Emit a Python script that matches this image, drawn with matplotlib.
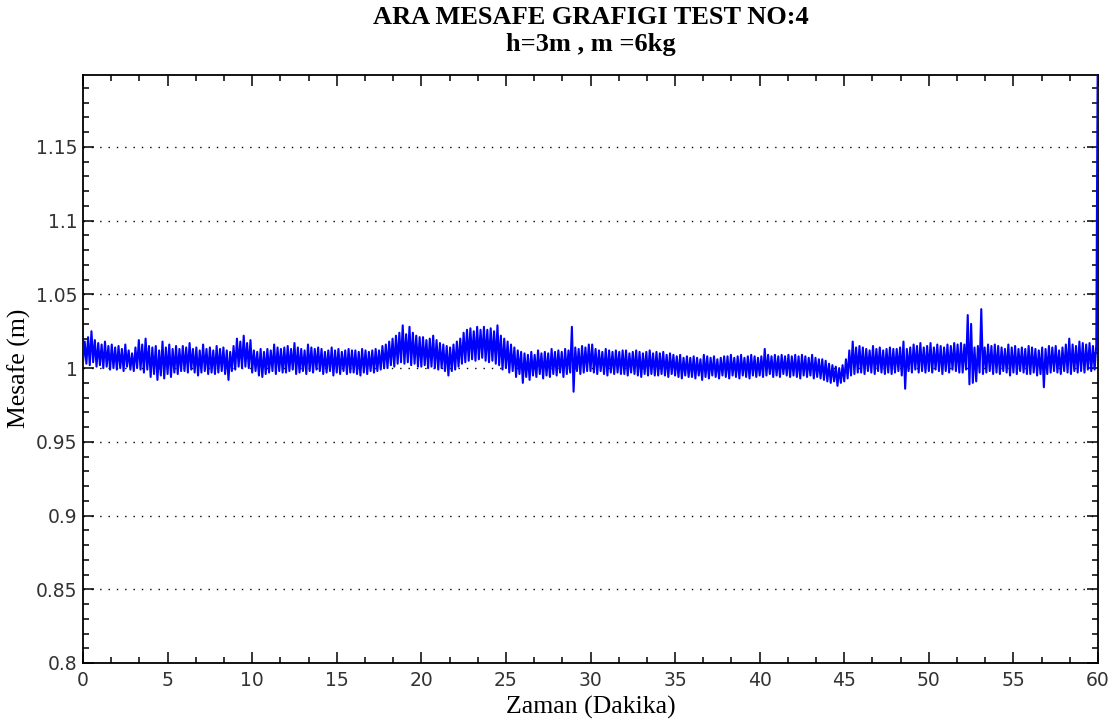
import numpy as np
import matplotlib
matplotlib.use("Agg")
import matplotlib.pyplot as plt
from matplotlib.ticker import MultipleLocator, FixedLocator

# ---- data: time in minutes, distance in metres ----
time_step = 0.1  # minutes between readings
distance = [
    1.004, 1.018, 1.003, 1.021, 1.002, 1.025, 1.004, 1.019, 1.001, 1.017, 1.002, 1.016, 1.000, 1.018, 1.001, 1.015, 0.999, 1.016, 1.000, 1.014,
    0.999, 1.015, 1.000, 1.013, 0.998, 1.016, 1.001, 1.012, 0.999, 1.010, 0.998, 1.014, 1.000, 1.019, 0.999, 1.016, 0.997, 1.020, 0.999, 1.015,
    0.994, 1.014, 0.996, 1.015, 0.992, 1.012, 0.995, 1.018, 0.993, 1.014, 0.996, 1.016, 0.994, 1.013, 0.997, 1.015, 0.996, 1.013, 0.998, 1.015,
    0.998, 1.014, 0.997, 1.017, 0.999, 1.013, 0.997, 1.014, 0.995, 1.012, 0.997, 1.016, 0.998, 1.013, 0.996, 1.014, 0.997, 1.012, 0.996, 1.015,
    0.997, 1.013, 0.998, 1.014, 0.996, 1.012, 0.992, 1.011, 0.998, 1.015, 0.999, 1.020, 1.001, 1.018, 1.000, 1.022, 1.001, 1.017, 1.000, 1.019,
    0.997, 1.012, 0.998, 1.011, 0.995, 1.013, 0.994, 1.011, 0.996, 1.013, 0.997, 1.012, 0.998, 1.016, 0.996, 1.014, 0.998, 1.013, 0.997, 1.014,
    0.997, 1.015, 0.998, 1.013, 0.999, 1.017, 0.996, 1.014, 0.997, 1.013, 0.998, 1.012, 0.996, 1.016, 0.998, 1.014, 0.997, 1.013, 0.999, 1.014,
    0.998, 1.013, 0.996, 1.011, 0.997, 1.012, 0.998, 1.014, 0.995, 1.012, 0.997, 1.013, 0.996, 1.011, 0.998, 1.012, 0.996, 1.013, 0.997, 1.012,
    0.997, 1.012, 0.996, 1.011, 0.995, 1.013, 0.997, 1.012, 0.996, 1.011, 0.998, 1.012, 0.997, 1.013, 0.998, 1.012, 0.999, 1.015, 1.000, 1.016,
    1.000, 1.018, 1.002, 1.020, 1.001, 1.022, 1.003, 1.024, 1.004, 1.029, 1.003, 1.023, 1.004, 1.028, 1.002, 1.024, 1.003, 1.022, 1.001, 1.021,
    1.001, 1.021, 1.002, 1.019, 1.000, 1.020, 1.001, 1.022, 1.000, 1.019, 0.999, 1.017, 1.000, 1.016, 0.998, 1.015, 0.995, 1.014, 0.998, 1.016,
    0.999, 1.018, 1.001, 1.020, 1.003, 1.024, 1.004, 1.026, 1.005, 1.027, 1.006, 1.025, 1.005, 1.028, 1.006, 1.026, 1.007, 1.028, 1.005, 1.026,
    1.004, 1.027, 1.005, 1.025, 1.003, 1.029, 1.002, 1.022, 0.999, 1.020, 1.000, 1.018, 0.997, 1.016, 0.998, 1.014, 0.994, 1.012, 0.996, 1.011,
    0.990, 1.010, 0.994, 1.009, 0.992, 1.011, 0.995, 1.009, 0.994, 1.012, 0.996, 1.010, 0.993, 1.011, 0.995, 1.010, 0.994, 1.013, 0.996, 1.011,
    0.995, 1.012, 0.997, 1.011, 0.994, 1.013, 0.996, 1.012, 0.997, 1.028, 0.984, 1.014, 0.998, 1.013, 0.996, 1.015, 0.997, 1.014, 0.998, 1.016,
    0.998, 1.016, 0.997, 1.013, 0.996, 1.012, 0.998, 1.011, 0.996, 1.013, 0.995, 1.012, 0.997, 1.011, 0.996, 1.012, 0.997, 1.011, 0.996, 1.012,
    0.996, 1.012, 0.995, 1.010, 0.997, 1.011, 0.996, 1.012, 0.995, 1.011, 0.994, 1.010, 0.996, 1.011, 0.995, 1.012, 0.996, 1.010, 0.995, 1.011,
    0.995, 1.010, 0.996, 1.011, 0.995, 1.009, 0.994, 1.010, 0.996, 1.009, 0.995, 1.008, 0.994, 1.009, 0.993, 1.007, 0.995, 1.008, 0.994, 1.007,
    0.994, 1.008, 0.993, 1.007, 0.995, 1.006, 0.992, 1.009, 0.994, 1.008, 0.993, 1.007, 0.995, 1.008, 0.994, 1.006, 0.993, 1.007, 0.995, 1.008,
    0.994, 1.008, 0.993, 1.009, 0.995, 1.007, 0.994, 1.008, 0.993, 1.009, 0.995, 1.007, 0.994, 1.008, 0.993, 1.009, 0.995, 1.008, 0.994, 1.007,
    0.995, 1.008, 0.994, 1.013, 0.995, 1.009, 0.996, 1.008, 0.994, 1.009, 0.995, 1.008, 0.994, 1.009, 0.996, 1.008, 0.995, 1.009, 0.994, 1.008,
    0.995, 1.009, 0.994, 1.008, 0.993, 1.009, 0.995, 1.008, 0.994, 1.007, 0.995, 1.009, 0.993, 1.007, 0.994, 1.006, 0.993, 1.006, 0.992, 1.005,
    0.991, 1.003, 0.990, 1.002, 0.991, 1.001, 0.988, 1.000, 0.990, 1.002, 0.991, 1.006, 0.993, 1.012, 0.995, 1.018, 0.996, 1.014, 0.997, 1.015,
    0.997, 1.014, 0.996, 1.013, 0.998, 1.012, 0.997, 1.015, 0.996, 1.013, 0.998, 1.014, 0.997, 1.012, 0.996, 1.013, 0.997, 1.014, 0.996, 1.013,
    0.997, 1.013, 0.998, 1.014, 0.995, 1.018, 0.986, 1.013, 0.998, 1.014, 0.997, 1.016, 0.999, 1.015, 0.997, 1.017, 0.998, 1.014, 0.997, 1.015,
    0.998, 1.017, 0.997, 1.014, 0.999, 1.016, 0.998, 1.015, 0.996, 1.014, 0.998, 1.016, 0.997, 1.015, 0.999, 1.017, 0.998, 1.016, 0.997, 1.017,
    0.997, 1.016, 0.999, 1.036, 0.989, 1.030, 0.990, 1.014, 0.991, 1.015, 0.997, 1.040, 0.996, 1.014, 0.997, 1.016, 0.998, 1.015, 0.996, 1.016,
    0.997, 1.015, 0.996, 1.014, 0.998, 1.013, 0.997, 1.016, 0.995, 1.014, 0.997, 1.015, 0.996, 1.013, 0.998, 1.014, 0.997, 1.013, 0.996, 1.015,
    0.996, 1.014, 0.997, 1.013, 0.995, 1.012, 0.996, 1.014, 0.987, 1.013, 0.996, 1.015, 0.997, 1.014, 0.998, 1.015, 0.997, 1.012, 0.996, 1.014,
    0.998, 1.016, 0.997, 1.020, 0.996, 1.016, 0.998, 1.015, 0.997, 1.018, 0.998, 1.017, 0.997, 1.016, 0.999, 1.017, 0.998, 1.015, 0.999, 1.016,
    1.250,
]
time_min = np.arange(len(distance)) * time_step

x_ticks = [0, 5, 10, 15, 20, 25, 30, 35, 40, 45, 50, 55, 60]
y_ticks = [0.8, 0.85, 0.9, 0.95, 1.0, 1.05, 1.1, 1.15]
y_tick_labels = ["0.8", "0.85", "0.9", "0.95", "1", "1.05", "1.1", "1.15"]

title_line1 = "ARA MESAFE GRAFIGI TEST NO:4"
title_line2 = "h=3m , m =6kg"
x_label = "Zaman (Dakika)"
y_label = "Mesafe (m)"

# ---- figure ----
W, H = 1116, 722
fig = plt.figure(figsize=(W / 100, H / 100), dpi=100)
ax = fig.add_axes([83 / W, 1 - 663 / H, (1098 - 83) / W, (663 - 75) / H])

ax.plot(time_min, distance, color="#0000ff", lw=1.5, zorder=3)

ax.set_xlim(0, 60)
ax.set_ylim(0.8, 1.1988)

ax.xaxis.set_major_locator(FixedLocator(x_ticks))
ax.xaxis.set_minor_locator(MultipleLocator(5 / 3))
ax.yaxis.set_major_locator(FixedLocator(y_ticks))
ax.yaxis.set_minor_locator(MultipleLocator(0.01))
ax.set_yticklabels(y_tick_labels)
ax.set_xticklabels([str(v) for v in x_ticks])

ax.tick_params(which="both", direction="in", top=True, right=True,
               colors="black", labelcolor="#333333", labelsize=13.5, width=1.1)
ax.tick_params(which="major", length=8)
ax.tick_params(axis="x", which="major", pad=6)
ax.tick_params(axis="y", which="major", pad=4)
ax.tick_params(which="minor", length=4.5)
for lab in ax.get_xticklabels() + ax.get_yticklabels():
    lab.set_family("DejaVu Sans")

for s in ax.spines.values():
    s.set_linewidth(1.3)
    s.set_color("black")

ax.grid(axis="y", which="major", linestyle=(0, (1, 5)), color="black", lw=1.0)

cx = 0.5 * (83 + 1098) / W
fig.text(cx, 1 - 17 / H, title_line1, ha="center", va="center",
         fontsize=19, fontweight="bold", family="Liberation Serif")
fig.text(cx, 1 - 45 / H, title_line2, ha="center", va="center",
         fontsize=19, fontweight="bold", family="Liberation Serif")
fig.text(cx, 1 - 707 / H, x_label, ha="center", va="center",
         fontsize=18.5, family="Liberation Serif")
fig.text(19 / W, 1 - 368 / H, y_label, ha="center", va="center", rotation=90,
         fontsize=18.5, family="Liberation Serif")

fig.savefig("out.png", dpi=100, facecolor="white")
